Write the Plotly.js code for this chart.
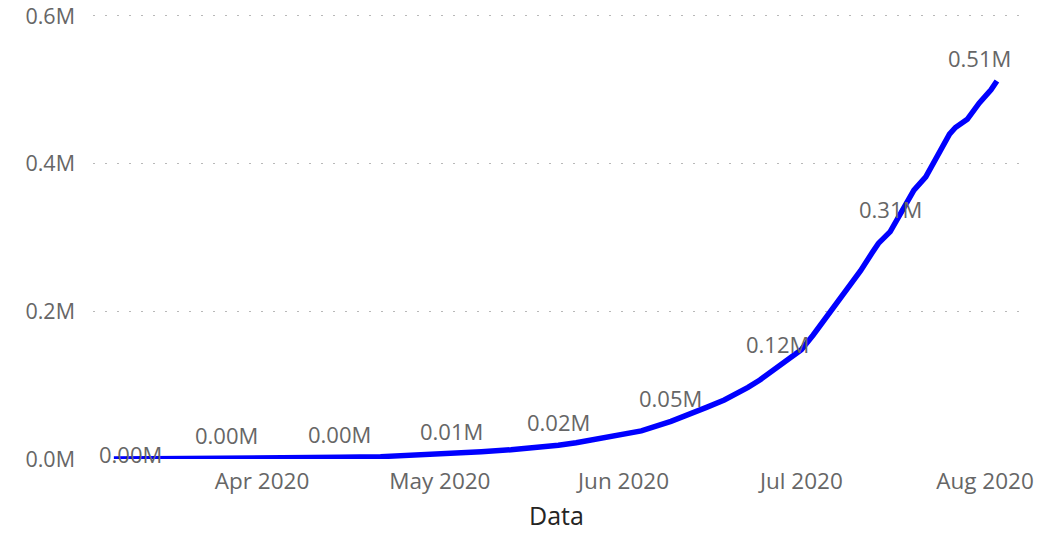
<!DOCTYPE html>
<html>
<head>
<meta charset="utf-8">
<script src="https://cdn.plot.ly/plotly-3.0.1.min.js"></script>
<style>
  html, body { margin: 0; padding: 0; background: #ffffff; }
  #chart { width: 1060px; height: 535px; }
</style>
</head>
<body>
<div id="chart"></div>
<script>
// ---- data ----
var dates = [
  '2020-03-07','2020-03-15','2020-03-26','2020-04-05','2020-04-14','2020-04-21','2020-04-26',
  '2020-05-01','2020-05-03','2020-05-08','2020-05-13','2020-05-19','2020-05-21','2020-05-24',
  '2020-05-27','2020-05-31','2020-06-04','2020-06-09','2020-06-12','2020-06-15','2020-06-18',
  '2020-06-20','2020-06-22','2020-06-24','2020-06-27','2020-06-29','2020-07-01','2020-07-03',
  '2020-07-05','2020-07-06','2020-07-08','2020-07-09','2020-07-11','2020-07-13','2020-07-14',
  '2020-07-16','2020-07-17','2020-07-18','2020-07-20','2020-07-22','2020-07-24','2020-07-26',
  '2020-07-27','2020-07-29','2020-07-31','2020-08-02','2020-08-03'
];
var values = [
  0, 200, 900, 1600, 2300, 3200, 4800,
  6500, 7300, 9800, 12500, 16500, 18500, 22000,
  26000, 31000, 38000, 51000, 60000, 70000, 80000,
  88000, 97000, 107000, 124000, 136000, 148000, 168000,
  190000, 202000, 222000, 232000, 255000, 280000, 292000,
  308000, 322000, 338000, 364000, 382000, 412000, 440000,
  449000, 460000, 482000, 500000, 512000
];
// dates that carry a data label
var labelDates = ['2020-03-07','2020-03-26','2020-04-14','2020-05-03','2020-05-21',
                  '2020-06-09','2020-06-27','2020-07-16','2020-08-03'];
var xTickDates  = ['2020-04-01','2020-05-01','2020-06-01','2020-07-01','2020-08-01'];
var xTickLabels = ['Apr 2020','May 2020','Jun 2020','Jul 2020','Aug 2020'];
var yTickVals   = [0, 200000, 400000, 600000];
var yTickLabels = ['0.0M','0.2M','0.4M','0.6M'];
var xTitle = 'Data';

// ---- build ----
var grey = '#666666';
var font = 'Open Sans, Segoe UI, sans-serif';

var annotations = labelDates.map(function (d, i) {
  var v = values[dates.indexOf(d)];
  var xs = 0, ys = 23;
  if (i === 0) { xs = 17; ys = 5; }
  if (i === labelDates.length - 1) { xs = -17; }
  return {
    x: d, y: v, xref: 'x', yref: 'y',
    text: (v / 1e6).toFixed(2) + 'M',
    showarrow: false, xanchor: 'center', yanchor: 'middle',
    xshift: xs, yshift: ys,
    font: { family: font, size: 22, color: grey }
  };
});

var trace = {
  type: 'scatter', mode: 'lines',
  x: dates, y: values,
  line: { color: '#0000FF', width: 5.5 },
  hoverinfo: 'x+y'
};

var layout = {
  width: 1060, height: 535,
  margin: { l: 93, r: 40, t: 14, b: 76, pad: 0 },
  paper_bgcolor: '#ffffff', plot_bgcolor: '#ffffff',
  showlegend: false,
  xaxis: {
    type: 'date',
    range: ['2020-03-03 11:30', '2020-08-06 21:30'],
    tickvals: xTickDates, ticktext: xTickLabels,
    showgrid: false, zeroline: false, showline: false, ticks: '',
    ticklabelstandoff: 6,
    ticklabeloverflow: 'allow',
    tickfont: { family: font, size: 22.5, color: grey },
    title: { text: xTitle, font: { family: font, size: 25, color: '#252423' }, standoff: 12 }
  },
  yaxis: {
    range: [0, 602700],
    tickvals: yTickVals, ticktext: yTickLabels,
    showgrid: true, gridcolor: '#b8b8b8', gridwidth: 1, griddash: '2px,10px',
    zeroline: false, showline: false, ticks: '',
    ticklabelstandoff: 17,
    ticklabeloverflow: 'allow',
    tickfont: { family: font, size: 21.5, color: grey }
  },
  annotations: annotations
};

Plotly.newPlot('chart', [trace], layout, { displayModeBar: false, staticPlot: true });
</script>
</body>
</html>
